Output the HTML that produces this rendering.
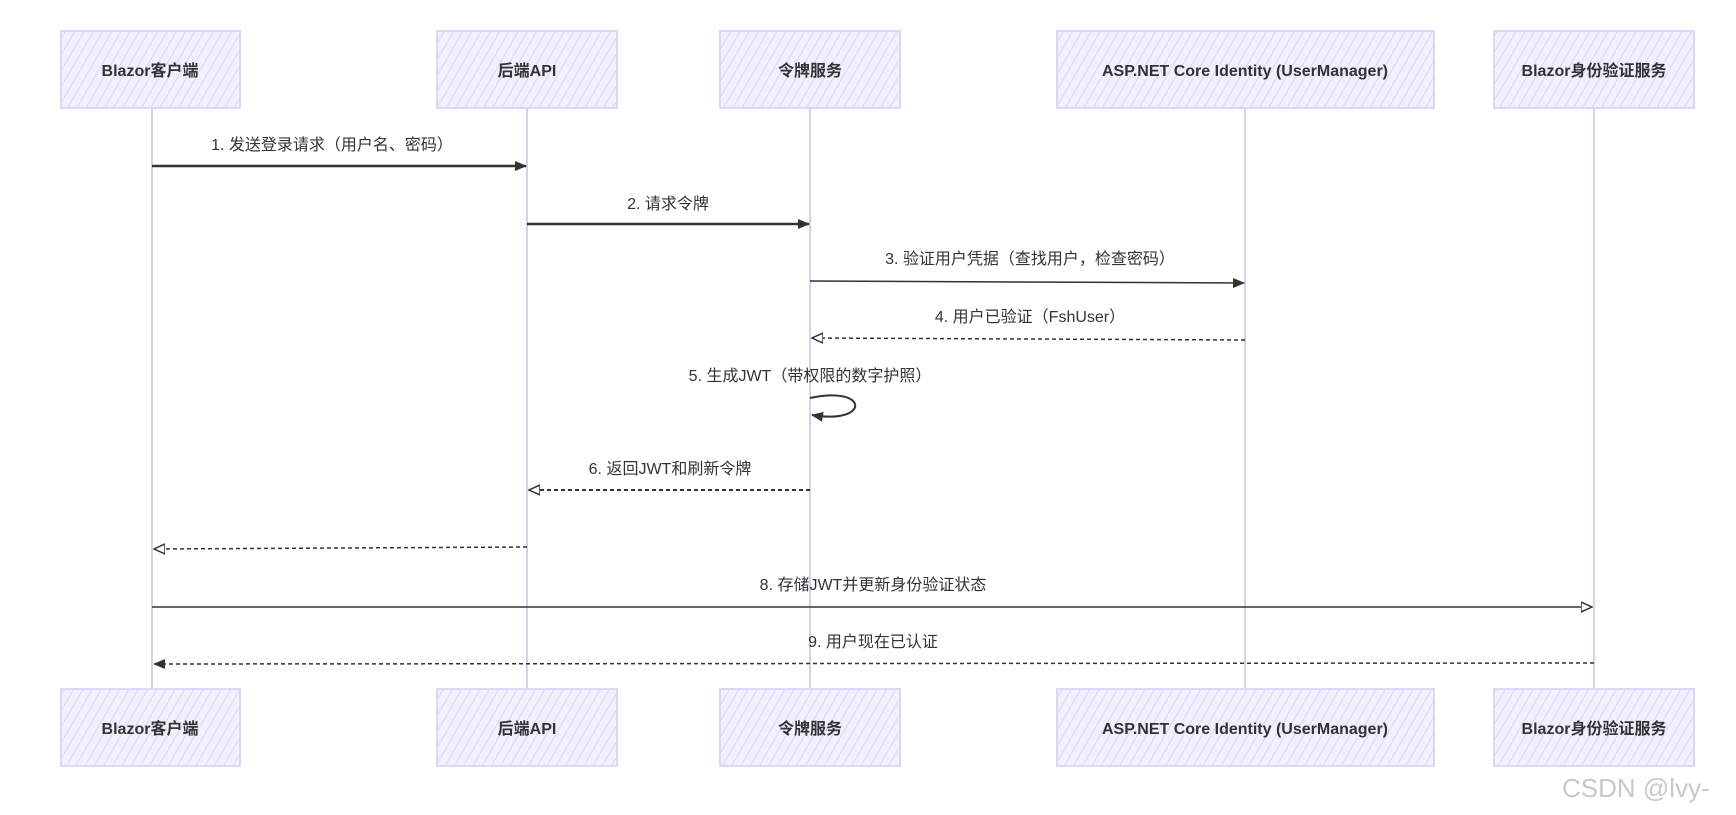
<!DOCTYPE html>
<html><head><meta charset="utf-8"><style>
html,body{margin:0;padding:0;background:#fff;}
svg{display:block;}
text{font-family:"Liberation Sans","Noto Sans CJK SC",sans-serif;fill:#333;}
</style></head><body>
<svg width="1736" height="815" viewBox="0 0 1736 815" xmlns="http://www.w3.org/2000/svg">
<defs>
<pattern id="h" width="8" height="8" patternUnits="userSpaceOnUse" patternTransform="rotate(30)">
<rect width="8" height="8" fill="#f1f0ff"/>
<line x1="0" y1="0" x2="0" y2="8" stroke="#d9d6fb" stroke-width="2"/>
</pattern>
<marker id="a" markerWidth="12" markerHeight="10" refX="11" refY="5" orient="auto" markerUnits="userSpaceOnUse"><path d="M0,0 L12,5 L0,10 Z" fill="#333"/></marker>
<marker id="o" markerWidth="12" markerHeight="12" refX="11" refY="6" orient="auto" markerUnits="userSpaceOnUse"><path d="M0,1 L11,6 L0,11 Z" fill="#fff" stroke="#333" stroke-width="1.5"/></marker>
</defs>
<g stroke="#d6cff3" stroke-width="2">
<line x1="152" y1="108" x2="152" y2="689"/>
<line x1="527" y1="108" x2="527" y2="689"/>
<line x1="810" y1="108" x2="810" y2="689"/>
<line x1="1245" y1="108" x2="1245" y2="689"/>
<line x1="1594" y1="108" x2="1594" y2="689"/>
</g>
<g fill="url(#h)" stroke="#dcd6f7" stroke-width="2">
<rect x="61" y="31" width="179" height="77"/><rect x="437" y="31" width="180" height="77"/><rect x="720" y="31" width="180" height="77"/><rect x="1057" y="31" width="377" height="77"/><rect x="1494" y="31" width="200" height="77"/>
<rect x="61" y="689" width="179" height="77"/><rect x="437" y="689" width="180" height="77"/><rect x="720" y="689" width="180" height="77"/><rect x="1057" y="689" width="377" height="77"/><rect x="1494" y="689" width="200" height="77"/>
</g>
<g font-size="16" font-weight="bold" text-anchor="middle">
<text x="150" y="76">Blazor客户端</text><text x="527" y="76">后端API</text><text x="810" y="76">令牌服务</text><text x="1245" y="76">ASP.NET Core Identity (UserManager)</text><text x="1594" y="76">Blazor身份验证服务</text>
<text x="150" y="734">Blazor客户端</text><text x="527" y="734">后端API</text><text x="810" y="734">令牌服务</text><text x="1245" y="734">ASP.NET Core Identity (UserManager)</text><text x="1594" y="734">Blazor身份验证服务</text>
</g>
<g font-size="16" text-anchor="middle">
<text x="332" y="150">1. 发送登录请求（用户名、密码）</text>
<text x="668" y="209">2. 请求令牌</text>
<text x="1030" y="264">3. 验证用户凭据（查找用户，检查密码）</text>
<text x="1030" y="322">4. 用户已验证（FshUser）</text>
<text x="810" y="381">5. 生成JWT（带权限的数字护照）</text>
<text x="670" y="474">6. 返回JWT和刷新令牌</text>
<text x="873" y="590">8. 存储JWT并更新身份验证状态</text>
<text x="873" y="647">9. 用户现在已认证</text>
</g>
<g stroke="#333" fill="none">
<line x1="152" y1="166" x2="526" y2="166" stroke-width="2.5" marker-end="url(#a)"/>
<line x1="527" y1="224" x2="809" y2="224" stroke-width="2.5" marker-end="url(#a)"/>
<line x1="810" y1="281" x2="1244" y2="283" stroke-width="1.5" marker-end="url(#a)"/>
<line x1="1245" y1="340" x2="812" y2="338" stroke-width="1.5" stroke-dasharray="4,3" marker-end="url(#o)"/>
<path d="M810,398 C870,385 870,425 812,415" stroke-width="2" marker-end="url(#a)"/>
<line x1="810" y1="490" x2="529" y2="490" stroke-width="2" stroke-dasharray="4,3" marker-end="url(#o)"/>
<line x1="527" y1="547" x2="154" y2="549" stroke-width="1.5" stroke-dasharray="4,3" marker-end="url(#o)"/>
<line x1="152" y1="607" x2="1592" y2="607" stroke-width="1.5" marker-end="url(#o)"/>
<line x1="1594" y1="663" x2="154" y2="664" stroke-width="1.5" stroke-dasharray="4,3" marker-end="url(#a)"/>
</g>
<text x="1562" y="797" font-size="26" style="fill:#c8c8c8">CSDN @lvy-</text>
</svg>
</body></html>
